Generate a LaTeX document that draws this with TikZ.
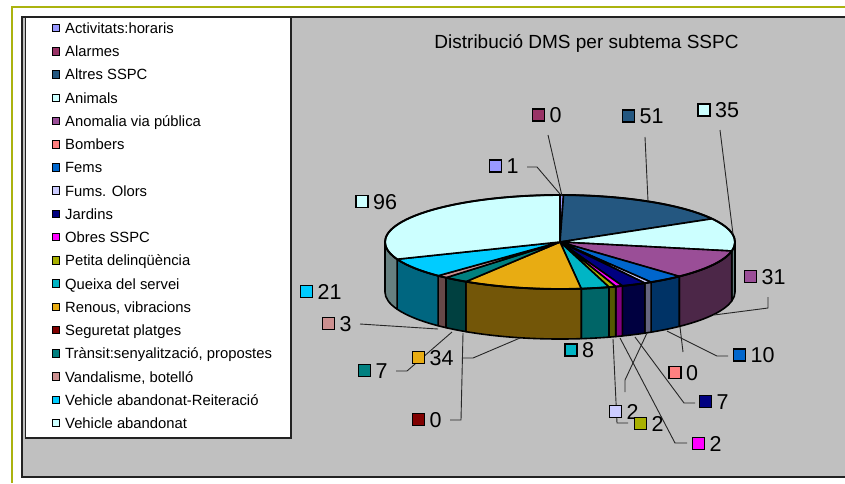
\documentclass[tikz,border=0pt]{standalone}
\usepackage{fontspec}
\setmainfont{Liberation Sans}
\usetikzlibrary{calc}

% slice colours (top faces)
\definecolor{cAct}{HTML}{9999FF}
\definecolor{cAla}{HTML}{993366}
\definecolor{cAlt}{HTML}{245780}
\definecolor{cAni}{HTML}{CCFFFF}
\definecolor{cAno}{HTML}{9A4E97}
\definecolor{cBom}{HTML}{FF8080}
\definecolor{cFem}{HTML}{0066CC}
\definecolor{cFum}{HTML}{CCCCFF}
\definecolor{cJar}{HTML}{000080}
\definecolor{cObr}{HTML}{FF00FF}
\definecolor{cPet}{HTML}{A8B000}
\definecolor{cQue}{HTML}{00B5C5}
\definecolor{cRen}{HTML}{E8AC12}
\definecolor{cSeg}{HTML}{800000}
\definecolor{cTra}{HTML}{008080}
\definecolor{cVan}{HTML}{CC9090}
\definecolor{cVeR}{HTML}{00CCFF}
\definecolor{cVeh}{HTML}{CCFFFF}
% slice colours (side walls)
\definecolor{sAni}{HTML}{668080}
\definecolor{sAno}{HTML}{4C2748}
\definecolor{sFem}{HTML}{003366}
\definecolor{sFum}{HTML}{666680}
\definecolor{sJar}{HTML}{000040}
\definecolor{sObr}{HTML}{800080}
\definecolor{sPet}{HTML}{545800}
\definecolor{sQue}{HTML}{006567}
\definecolor{sRen}{HTML}{735608}
\definecolor{sTra}{HTML}{004040}
\definecolor{sVan}{HTML}{664848}
\definecolor{sVeR}{HTML}{006680}
\definecolor{sVeh}{HTML}{668080}
% frame colours
\definecolor{olivebar}{HTML}{ABB30F}
\definecolor{chartgray}{HTML}{C0C0C0}
\definecolor{framedark}{HTML}{222222}

\tikzset{
  legmark/.style={rectangle, draw=black, line width=0.9pt, minimum size=7.5pt, inner sep=0pt},
  legtext/.style={inner sep=0pt, font=\fontsize{14.8}{18}\selectfont},
  datamark/.style={rectangle, draw=black, line width=1.3pt, minimum size=12pt, inner sep=0pt},
  datatext/.style={inner sep=0pt, font=\fontsize{21.5}{24}\selectfont},
  leader/.style={draw=black!85, line width=0.9pt},
  slicetop/.style={draw=black, line width=1.6pt, line join=round},
  sliceside/.style={draw=black, line width=1.6pt, line join=round},
}

\begin{document}
\begin{tikzpicture}[x=1pt,y=1pt]
\useasboundingbox (0,0) rectangle (845,-483);

% slide border
\draw[olivebar, line width=2.2pt] (12,-483) -- (12,-7) -- (845,-7);

% chart area
\fill[chartgray] (22,-17) rectangle (846,-477);
\draw[framedark, line width=1.5pt] (846,-17) -- (22,-17) -- (22,-477) -- (846,-477);

% legend box
\filldraw[fill=white, draw=framedark, line width=1.2pt] (25.5,-17) rectangle (291,-438);

\foreach \c/\t [count=\i from 0] in {
  cAct/{Activitats:horaris}, cAla/{Alarmes}, cAlt/{Altres SSPC}, cAni/{Animals},
  cAno/{Anomalia via pública}, cBom/{Bombers}, cFem/{Fems}, cFum/{Fums. Olors},
  cJar/{Jardins}, cObr/{Obres SSPC}, cPet/{Petita delinqüència}, cQue/{Queixa del servei},
  cRen/{Renous, vibracions}, cSeg/{Seguretat platges}, cTra/{Trànsit:senyalització, propostes},
  cVan/{Vandalisme, botelló}, cVeR/{Vehicle abandonat-Reiteració}, cVeh/{Vehicle abandonat}} {
  \pgfmathsetmacro\yy{-28-23.24*\i}
  \node[legmark, fill=\c] (lm\i) at (56,\yy) {};
  \node[legtext, anchor=base west] (lt\i) at (65,\yy-5.4) {\t};
}

% title
\node[anchor=base, inner sep=0pt, font=\fontsize{19}{23}\selectfont] (title) at (586.5,-48) {Distribució DMS per subtema SSPC};

% 3-D pie, centre of the top face
\begin{scope}[shift={(560,-242)}]
  % visible side walls
  \foreach \a/\b/\c in {0/-11.032/sAni, -11.032/-47.032/sAno, -47.032/-58.645/sFem,
      -58.645/-60.968/sFum, -60.968/-69.097/sJar, -69.097/-71.419/sObr,
      -71.419/-73.742/sPet, -73.742/-83.032/sQue, -83.032/-122.516/sRen,
      -122.516/-130.645/sTra, -130.645/-134.129/sVan, -134.129/-158.516/sVeR,
      -158.516/-180/sVeh} {
    \filldraw[sliceside, fill=\c] (\a:175pt and 47pt)
      arc[start angle=\a, end angle=\b, x radius=175pt, y radius=47pt]
      -- ++(0,-50)
      arc[start angle=\b, end angle=\a, x radius=175pt, y radius=47pt] -- cycle;
  }
  % top faces
  \foreach \a/\b/\c in {90/88.839/cAct, 88.839/29.613/cAlt, 29.613/-11.032/cAni,
      -11.032/-47.032/cAno, -47.032/-58.645/cFem, -58.645/-60.968/cFum,
      -60.968/-69.097/cJar, -69.097/-71.419/cObr, -71.419/-73.742/cPet,
      -73.742/-83.032/cQue, -83.032/-122.516/cRen, -122.516/-130.645/cTra,
      -130.645/-134.129/cVan, -134.129/-158.516/cVeR, -158.516/-270/cVeh} {
    \filldraw[slicetop, fill=\c] (0,0) -- (\a:175pt and 47pt)
      arc[start angle=\a, end angle=\b, x radius=175pt, y radius=47pt] -- cycle;
  }
  \draw[line width=1.9pt] (0,0) ellipse[x radius=175pt, y radius=47pt];
\end{scope}

% leader lines: rim point, bend, free end
\coordinate (r-act) at (560,-194); \coordinate (k-act) at (537,-167); \coordinate (e-act) at (527,-167);
\coordinate (r-ala) at (562,-196); \coordinate (e-ala) at (548,-135);
\coordinate (r-alt) at (648,-201); \coordinate (e-alt) at (645,-137);
\coordinate (r-ani) at (733,-234); \coordinate (e-ani) at (720,-130);
\coordinate (r-ano) at (714,-315); \coordinate (k-ano) at (768,-308); \coordinate (e-ano) at (768,-297);
\coordinate (r-fem) at (667,-331); \coordinate (k-fem) at (717,-356); \coordinate (e-fem) at (728,-356);
\coordinate (r-bom) at (680,-327); \coordinate (e-bom) at (683,-352);
\coordinate (r-fum) at (647,-333); \coordinate (k-fum) at (625,-380); \coordinate (e-fum) at (625,-392);
\coordinate (r-jar) at (635,-337); \coordinate (k-jar) at (684,-403); \coordinate (e-jar) at (695,-403);
\coordinate (r-obr) at (620,-338); \coordinate (k-obr) at (675,-443); \coordinate (e-obr) at (687,-443);
\coordinate (r-pet) at (613,-339); \coordinate (k-pet) at (617,-423); \coordinate (e-pet) at (628,-423);
\coordinate (r-ren) at (520,-338); \coordinate (k-ren) at (473,-358); \coordinate (e-ren) at (463,-358);
\coordinate (r-seg) at (463,-333); \coordinate (k-seg) at (461,-420); \coordinate (e-seg) at (450,-420);
\coordinate (r-tra) at (452,-332); \coordinate (k-tra) at (407,-371); \coordinate (e-tra) at (396,-371);
\coordinate (r-van) at (438,-329); \coordinate (e-van) at (360,-324);

\draw[leader] (r-act) -- (k-act) -- (e-act);
\draw[leader] (r-ala) -- (e-ala);
\draw[leader] (r-alt) -- (e-alt);
\draw[leader] (r-ani) -- (e-ani);
\draw[leader] (r-ano) -- (k-ano) -- (e-ano);
\draw[leader] (r-fem) -- (k-fem) -- (e-fem);
\draw[leader] (r-bom) -- (e-bom);
\draw[leader] (r-fum) -- (k-fum) -- (e-fum);
\draw[leader] (r-jar) -- (k-jar) -- (e-jar);
\draw[leader] (r-obr) -- (k-obr) -- (e-obr);
\draw[leader] (r-pet) -- (k-pet) -- (e-pet);
\draw[leader] (r-ren) -- (k-ren) -- (e-ren);
\draw[leader] (r-seg) -- (k-seg) -- (e-seg);
\draw[leader] (r-tra) -- (k-tra) -- (e-tra);
\draw[leader] (r-van) -- (e-van);

% value labels
\foreach \n/\x/\y/\c/\v in {
  act/495.5/-166/cAct/1, ala/538.5/-115/cAla/0, alt/628.5/-116/cAlt/51,
  ani/704/-110/cAni/35, ano/750.5/-276.5/cAno/31, fem/739.5/-355/cFem/10,
  bom/675/-372.5/cBom/0, fum/615.5/-411.5/cFum/2, jar/705.5/-401.5/cJar/7,
  pet/640.5/-423.5/cPet/2, obr/698.5/-443.5/cObr/2, que/571/-350/cQue/8,
  ren/418.5/-357.5/cRen/34, seg/418.5/-419.5/cSeg/0, tra/364.5/-370.5/cTra/7,
  van/328.5/-323.5/cVan/3, ver/306.5/-291.5/cVeR/21, veh/362/-201.5/cVeh/96} {
  \node[datamark, fill=\c] (m-\n) at (\x,\y) {};
  \node[datatext, anchor=base west] (v-\n) at (\x+11,\y-7.8) {\v};
}
\end{tikzpicture}
\end{document}
